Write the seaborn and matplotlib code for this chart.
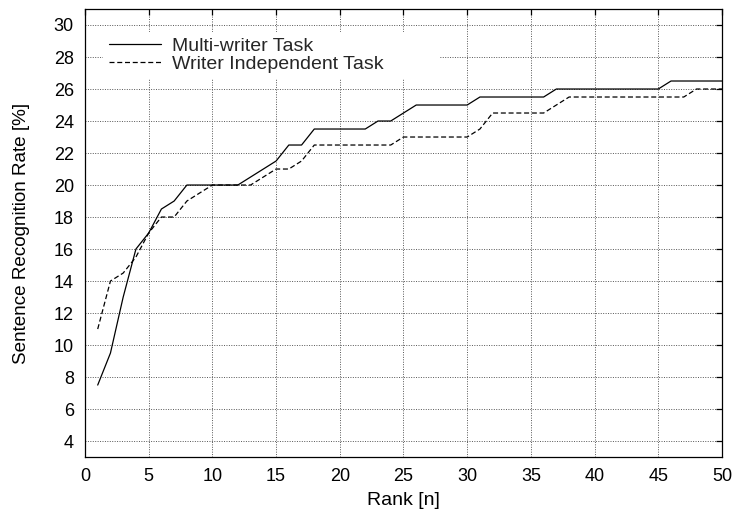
import matplotlib
matplotlib.use("Agg")
import matplotlib.pyplot as plt
import numpy as np
import pandas as pd
import seaborn as sns

# Sentence recognition rate [%] versus n-best rank
ranks = list(range(1, 51))
multi_writer = [7.5, 9.5, 13.0, 16.0, 17.0, 18.5, 19.0, 20.0, 20.0, 20.0,
                20.0, 20.0, 20.5, 21.0, 21.5, 22.5, 22.5, 23.5, 23.5, 23.5,
                23.5, 23.5, 24.0, 24.0, 24.5, 25.0, 25.0, 25.0, 25.0, 25.0,
                25.5, 25.5, 25.5, 25.5, 25.5, 25.5, 26.0, 26.0, 26.0, 26.0,
                26.0, 26.0, 26.0, 26.0, 26.0, 26.5, 26.5, 26.5, 26.5, 26.5]
writer_independent = [11.0, 14.0, 14.5, 15.5, 17.0, 18.0, 18.0, 19.0, 19.5, 20.0,
                      20.0, 20.0, 20.0, 20.5, 21.0, 21.0, 21.5, 22.5, 22.5, 22.5,
                      22.5, 22.5, 22.5, 22.5, 23.0, 23.0, 23.0, 23.0, 23.0, 23.0,
                      23.5, 24.5, 24.5, 24.5, 24.5, 24.5, 25.0, 25.5, 25.5, 25.5,
                      25.5, 25.5, 25.5, 25.5, 25.5, 25.5, 25.5, 26.0, 26.0, 26.0]
series_names = ["Multi-writer Task", "Writer Independent Task"]
x_ticks = list(range(0, 51, 5))
y_ticks = list(range(4, 31, 2))

df = pd.DataFrame({
    "rank": ranks * 2,
    "rate": multi_writer + writer_independent,
    "task": [series_names[0]] * len(ranks) + [series_names[1]] * len(ranks),
})

sns.set_theme(style="white")
plt.rcParams["font.family"] = ["Liberation Sans", "DejaVu Sans"]

fig = plt.figure(figsize=(7.35, 5.2), dpi=100)
ax = fig.add_axes([0.1156, 0.121, 0.8667, 0.8617])

sns.lineplot(data=df, x="rank", y="rate", hue="task", style="task",
             palette=["black", "black"],
             dashes={series_names[0]: "", series_names[1]: (4, 2.2)},
             linewidth=0.9, ax=ax, legend=True, zorder=3)

ax.set_xlim(0, 50)
ax.set_ylim(3, 31)
ax.set_xticks(x_ticks)
ax.set_yticks(y_ticks)
ax.grid(True, color="#555555", linestyle=(0, (1, 1.5)), linewidth=0.7)
ax.tick_params(direction="in", length=4.5, width=0.9, colors="black",
               labelsize=13, top=True, right=True, pad=8)
for sp in ax.spines.values():
    sp.set_color("black")
    sp.set_linewidth(0.9)

ax.set_xlabel("Rank [n]", fontsize=14, color="black", labelpad=5)
ax.set_ylabel("Sentence Recognition Rate [%]", fontsize=13.6, color="black", labelpad=17)

leg = ax.legend(loc="upper left", bbox_to_anchor=(0.028, 0.849, 0.529, 0.1),
                mode="expand", fontsize=14, frameon=True, fancybox=False,
                framealpha=1.0, facecolor="white", edgecolor="none",
                handlelength=2.7, handletextpad=0.55, labelspacing=0.0,
                borderpad=0.3, borderaxespad=0.0)
leg.set_zorder(2.5)
for line in leg.get_lines():
    line.set_linewidth(0.9)

fig.savefig("out.png", dpi=100)
